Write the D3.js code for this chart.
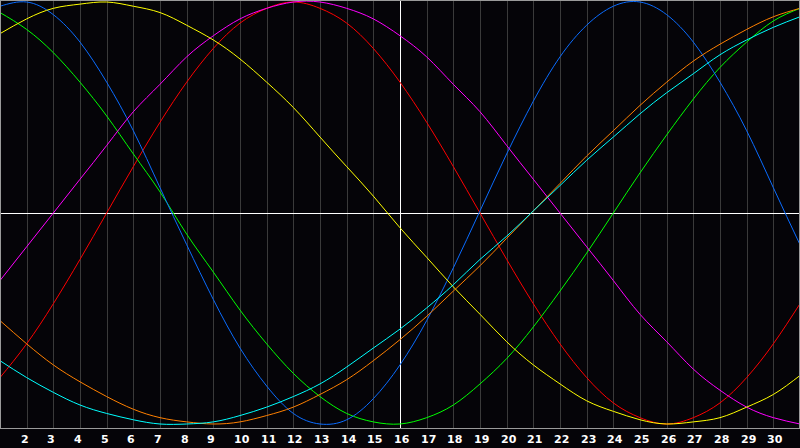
<!DOCTYPE html>
<html>
<head>
  <meta charset="utf-8">
  <title>Biorhythm</title>
  <style>
    html, body { margin: 0; padding: 0; background: #050408; overflow: hidden; }
    svg        { display: block; }
    .day-label { fill: white; font-family: "DejaVu Sans", sans-serif; font-weight: bold; font-size: 11px; }
    .curve     { fill: none; stroke-width: 1; }
  </style>
</head>
<body>
<svg id="chart" width="800" height="448"></svg>

<script src="https://d3js.org/d3.v7.min.js"></script>
<script>

// days of the month shown on the x axis
var days = d3.range(1, 32);
var dayLabels = d3.range(2, 31);

// values for each day, in percent (-100 .. 100)
var blue    = [98, 100, 94, 81, 62, 39, 12, -15, -41, -64, -82, -95, -100, -98, -88, -72,
               -51, -26, 1, 28, 53, 74, 89, 98, 100, 94, 81, 62, 39, 12, -15];
var red     = [-78, -62, -43, -22, 0, 22, 43, 62, 78, 90, 97, 100, 97, 90, 78, 62,
               43, 22, 0, -22, -43, -62, -78, -90, -97, -100, -97, -90, -78, -62, -43];
var green   = [95, 87, 76, 62, 46, 28, 10, -10, -28, -46, -62, -76, -87, -95, -99, -100,
               -97, -91, -81, -69, -54, -37, -19, 0, 19, 37, 54, 69, 81, 91, 97];
var magenta = [-32, -16, 0, 16, 32, 48, 61, 74, 84, 92, 97, 100, 100, 97, 92, 84,
               74, 61, 48, 32, 16, 0, -16, -32, -48, -61, -74, -84, -92, -97, -100];
var yellow  = [85, 92, 97, 99, 100, 98, 95, 89, 82, 73, 62, 50, 36, 22, 8, -7,
               -21, -35, -48, -61, -72, -81, -89, -94, -98, -100, -99, -97, -92, -86, -77];
var orange  = [-51, -62, -72, -80, -87, -93, -97, -99, -100, -99, -96, -92, -86, -79, -70, -60,
               -49, -37, -25, -12, 1, 14, 27, 39, 51, 62, 72, 80, 87, 93, 97];
var cyan    = [-70, -78, -85, -91, -95, -98, -100, -100, -99, -96, -92, -87, -81, -73, -64, -55,
               -45, -34, -22, -11, 1, 13, 25, 36, 47, 57, 66, 75, 82, 88, 93];

var series = [
  { name: "red",     values: red,     color: "#ff0000" },
  { name: "green",   values: green,   color: "#00ff00" },
  { name: "blue",    values: blue,    color: "#0a6cff" },
  { name: "magenta", values: magenta, color: "#ff00ff" },
  { name: "yellow",  values: yellow,  color: "#ffff00" },
  { name: "orange",  values: orange,  color: "#ff8000" },
  { name: "cyan",    values: cyan,    color: "#00ffff" }
];

var svg = d3.select("#chart");

var x = d3.scaleLinear().domain([1, 31]).range([0, 800]);
var y = d3.scaleLinear().domain([-100, 100]).range([424, 2]);

var plotBottom = 428;

// day grid lines
svg.append("g")
  .selectAll("line")
  .data(days.slice(1, -1))
  .enter()
  .append("line")
    .attr("x1", d => Math.round(x(d)) + 0.5)
    .attr("x2", d => Math.round(x(d)) + 0.5)
    .attr("y1", 0)
    .attr("y2", plotBottom)
    .attr("stroke", d => d == 16 ? "#ffffff" : "#3a3a3a")
    .attr("shape-rendering", "crispEdges");

// zero line
svg.append("line")
  .attr("x1", 0).attr("x2", 800)
  .attr("y1", Math.round(y(0)) + 0.5)
  .attr("y2", Math.round(y(0)) + 0.5)
  .attr("stroke", "#ffffff")
  .attr("shape-rendering", "crispEdges");

// curves
var line = d3.line()
  .x((d, i) => x(days[i]))
  .y(d => y(d))
  .curve(d3.curveNatural);

svg.append("g")
  .selectAll("path")
  .data(series)
  .enter()
  .append("path")
    .attr("class", "curve")
    .attr("stroke", d => d.color)
    .attr("d", d => line(d.values));

// frame
svg.append("rect")
  .attr("x", 0.5).attr("y", 0.5)
  .attr("width", 799).attr("height", plotBottom)
  .attr("fill", "none")
  .attr("stroke", "#9a9a9a")
  .attr("shape-rendering", "crispEdges");

// day labels
svg.append("g")
  .selectAll("text")
  .data(dayLabels)
  .enter()
  .append("text")
    .attr("class", "day-label")
    .attr("x", d => Math.round(x(d)) - 6)
    .attr("y", 443)
    .text(d => d);

</script>
</body>
</html>
